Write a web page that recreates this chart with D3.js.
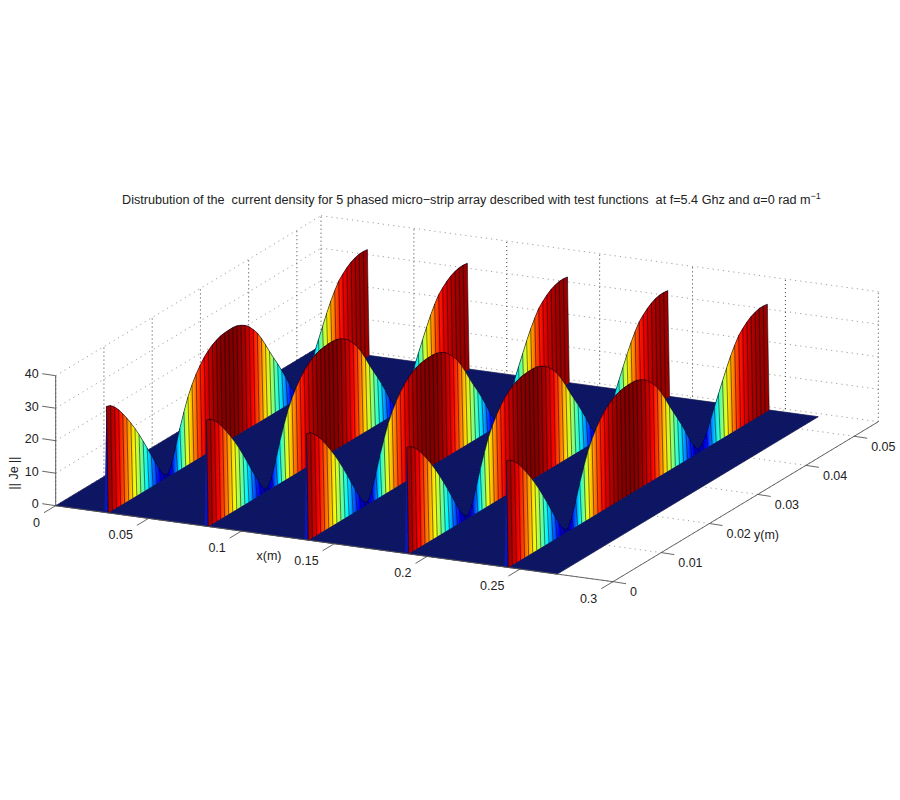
<!DOCTYPE html>
<html><head><meta charset="utf-8">
<style>html,body{margin:0;padding:0;background:#fff}svg{display:block}text{font-family:"Liberation Sans",Arial,sans-serif;fill:#222}</style>
</head><body><svg id="c" width="900" height="800"></svg>
<script src="https://cdn.jsdelivr.net/npm/d3@7"></script>
<script>
// ---- data ----
const xTicks = [0, 0.05, 0.1, 0.15, 0.2, 0.25, 0.3];
const yTicks = [0, 0.01, 0.02, 0.03, 0.04, 0.05];
const zTicks = [0, 10, 20, 30, 40];
const xTickLabels = ["0", "0.05", "0.1", "0.15", "0.2", "0.25", "0.3"];
const yTickLabels = ["0", "0.01", "0.02", "0.03", "0.04", "0.05"];
const zTickLabels = ["0", "10", "20", "30", "40"];
const patchEdgesX = [0.0283, 0.0821, 0.136, 0.19, 0.2436];
// ||Je|| along each patch, one value per mesh step in y
const jeProfile = [32.7, 32.2, 31, 29.4, 27.4, 25.3, 23, 20.6, 18, 15.2, 12.3, 9.3, 6.4, 3.5, 1.2, 0.4,
  3, 7.5, 12.3, 16.6, 20.5, 23.5, 26, 28, 29.7, 31, 32, 32.7, 33.2, 33.4, 33.5, 33.5,
  33.3, 32.7, 31.9, 30.7, 29.1, 27.3, 24.9, 22.2, 19.3, 16.6, 14, 11.2, 8.3, 5.2, 2.5, 0.8,
  1.6, 4, 7.2, 10.6, 13.9, 17.2, 20.4, 23.4, 26, 28.2, 29.6, 30.8, 31.7, 32.3, 32.65, 32.7, 32.5];
const surfaceXMax = 0.27, surfaceYMax = 0.0541;
const floorStepX = 0.001;
const titleText = "Distrubution of the\u00A0\u00A0current density for 5 phased micro\u2212strip array described with test functions\u00A0\u00A0at f=5.4 Ghz and \u03B1=0 rad m";

// ---- projection through D3 scales ----
const origin = [55.7, 505.7];
const xS = d3.scaleLinear().domain([0, 0.3]).range([[0, 0], [557.3, 76]]);
const yS = d3.scaleLinear().domain([0, 0.055]).range([[0, 0], [265.3, -160]]);
const zS = d3.scaleLinear().domain([0, 40]).range([[0, 0], [0, -130]]);
const P = (x, y, z) => {
  const a = xS(x), b = yS(y), c = zS(z);
  return [origin[0] + a[0] + b[0] + c[0], origin[1] + a[1] + b[1] + c[1]];
};
const jet = d3.scaleLinear()
  .domain([0, 1, 3, 5, 7, 8].map(k => k / 8 * 33.5))
  .range(["#00008f", "#0000ff", "#00ffff", "#ffff00", "#ff0000", "#800000"]);
const yStep = surfaceYMax / (jeProfile.length - 1);
const ys = jeProfile.map((_, i) => i * yStep);
const line = d3.line();
const svg = d3.select("#c");
const xMax = 0.3, yMax = 0.055, zMax = 40;
const defs = svg.append("defs");
defs.append("filter").attr("id", "soft").attr("filterUnits", "userSpaceOnUse")
  .attr("x", 0).attr("y", 0).attr("width", 900).attr("height", 800)
  .append("feGaussianBlur").attr("stdDeviation", 0.35);

// ---- dotted grid ----
const slant = svg.append("g").attr("fill", "none").attr("stroke", "#a0a0a0")
  .attr("stroke-width", 1).attr("stroke-dasharray", "1.2 4");
const upright = svg.append("g").attr("fill", "none").attr("stroke", "#3c3c3c")
  .attr("stroke-width", 1).attr("stroke-dasharray", "1 3");
const seg = (g, a, b) => g.append("path").attr("d", line([a, b]));
zTicks.forEach(z => {
  seg(slant, P(0, 0, z), P(0, yMax, z));
  seg(slant, P(0, yMax, z), P(xMax, yMax, z));
});
xTicks.forEach(x => {
  seg(slant, P(x, 0, 0), P(x, yMax, 0));
  seg(upright, P(x, yMax, 0), P(x, yMax, zMax));
});
yTicks.forEach(y => {
  seg(slant, P(0, y, 0), P(xMax, y, 0));
  seg(upright, P(0, y, 0), P(0, y, zMax));
});

// ---- surface ----
const surf = svg.append("g").attr("filter", "url(#soft)");
surf.append("path")
  .attr("d", line([P(0, 0, 0), P(surfaceXMax, 0, 0), P(surfaceXMax, surfaceYMax, 0), P(0, surfaceYMax, 0)]) + "Z")
  .attr("fill", "#141c78").attr("stroke", "#0a0f5a").attr("stroke-width", 0.6);
const mesh = surf.append("g").attr("fill", "none").attr("stroke", "#000").attr("stroke-width", 0.5).attr("stroke-opacity", 0.35);
d3.range(0, Math.round(surfaceXMax / floorStepX) + 1).forEach(k => {
  const x = k * floorStepX;
  seg(mesh, P(x, 0, 0), P(x, surfaceYMax, 0));
});
ys.forEach(y => seg(mesh, P(0, y, 0), P(surfaceXMax, y, 0)));

patchEdgesX.forEach((x0, n) => {
  const xTop = x0 - floorStepX, xBack = x0 - 2 * floorStepX;
  const g = surf.append("g");
  // thin back face
  g.append("path")
    .attr("d", line([...jeProfile.map((z, i) => P(xTop, ys[i], z)), P(xBack, surfaceYMax, 0), P(xBack, 0, 0)]) + "Z")
    .attr("fill", "#0a14b4");
  // visible face with a colour ramp following the values along y
  const a = P(xTop, 0, 0), b = P(xTop, surfaceYMax, 0);
  const grad = defs.append("linearGradient").attr("id", "face" + n).attr("gradientUnits", "userSpaceOnUse")
    .attr("x1", a[0]).attr("y1", 0).attr("x2", b[0]).attr("y2", 0);
  jeProfile.forEach((z, i) => grad.append("stop").attr("offset", i / (jeProfile.length - 1)).attr("stop-color", jet(z)));
  g.append("path")
    .attr("d", line([...jeProfile.map((z, i) => P(xTop, ys[i], z)), P(x0, surfaceYMax, 0), P(x0, 0, 0)]) + "Z")
    .attr("fill", `url(#face${n})`);
  jeProfile.forEach((z, i) => {
    g.append("path").attr("d", line([P(xTop, ys[i], z), P(x0, ys[i], 0)]))
      .attr("stroke", "#000").attr("stroke-width", 0.85).attr("stroke-opacity", 0.6).attr("fill", "none");
  });
  g.append("path").attr("d", line(jeProfile.map((z, i) => P(xTop, ys[i], z))))
    .attr("fill", "none").attr("stroke", "#000").attr("stroke-width", 0.7).attr("stroke-opacity", 0.7);
});

// ---- axes ----
const axes = svg.append("g").attr("fill", "none").attr("stroke", "#555").attr("stroke-width", 0.9);
seg(axes, P(0, 0, 0), P(xMax, 0, 0));
seg(axes, P(xMax, 0, 0), P(xMax, yMax, 0));
seg(axes, P(0, 0, 0), P(0, 0, zMax));
const tickX = [-11.7, 7], tickY = [13, 2], tickZ = [-13.5, -2];
const offs = (p, d) => [p[0] + d[0], p[1] + d[1]];
const labels = svg.append("g").attr("font-size", 12.5);
xTicks.forEach((x, i) => {
  const p = P(x, 0, 0), e = offs(p, tickX);
  seg(axes, p, e);
  labels.append("text").attr("x", e[0] - 4).attr("y", e[1] + 9.5).attr("dy", "0.36em")
    .attr("text-anchor", "end").text(xTickLabels[i]);
});
yTicks.forEach((y, i) => {
  const p = P(xMax, y, 0), e = offs(p, tickY);
  seg(axes, p, e);
  labels.append("text").attr("x", e[0] + 4).attr("y", e[1] + 8).attr("dy", "0.36em").text(yTickLabels[i]);
});
zTicks.forEach((z, i) => {
  const p = P(0, 0, z), e = offs(p, tickZ);
  seg(axes, p, e);
  labels.append("text").attr("x", e[0] - 3.5).attr("y", e[1]).attr("dy", "0.36em")
    .attr("text-anchor", "end").text(zTickLabels[i]);
});
labels.append("text").attr("x", 256.5).attr("y", 555).attr("dy", "0.36em").text("x(m)");
labels.append("text").attr("x", 754).attr("y", 534).attr("dy", "0.36em").text("y(m)");
labels.append("text").attr("transform", "translate(13,473) rotate(-90)").attr("text-anchor", "middle")
  .attr("dy", "0.36em").text("|| Je ||");
const t = svg.append("text").attr("x", 122).attr("y", 204).attr("font-size", 12.65).attr("fill", "#111");
t.append("tspan").text(titleText);
t.append("tspan").attr("dy", -5).attr("font-size", 9).text("\u22121");
</script></body></html>
